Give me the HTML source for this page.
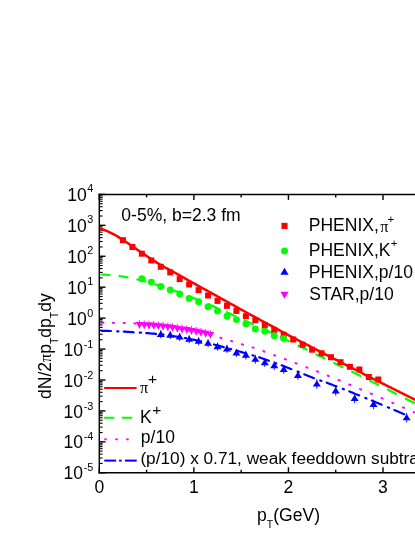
<!DOCTYPE html>
<html><head><meta charset="utf-8"><title>chart</title>
<style>
html,body{margin:0;padding:0;background:#fff;}
body{width:415px;height:537px;position:relative;overflow:hidden;font-family:"Liberation Sans",sans-serif;color:#000;}
.t{position:absolute;line-height:1;white-space:nowrap;font-family:"Liberation Sans",sans-serif;}
.t.r{text-align:right;}
.t.c{text-align:center;}
.sup{font-size:10.8px;position:relative;top:-8.5px;line-height:0;margin-left:0.6px}
.sub{font-size:10.4px;position:relative;top:6.6px;line-height:0;}
.sup2{font-size:11.5px;position:relative;top:-8.4px;line-height:0;margin-left:0.2px}
.bsup{font-size:15.5px;position:relative;top:-7.2px;line-height:0;margin-left:0.6px}
.sy{font-family:"Liberation Serif",serif;font-size:0.92em}
</style></head><body>
<svg width="415" height="537" viewBox="0 0 415 537" style="position:absolute;left:0;top:0">
<rect width="415" height="537" fill="#fff"/>
<g stroke="#000" stroke-width="1.4" fill="none">
<line x1="99.3" y1="194.40" x2="105.5" y2="194.40"/>
<line x1="99.3" y1="216.02" x2="102.6" y2="216.02" stroke-width="1.1"/>
<line x1="99.3" y1="210.57" x2="102.6" y2="210.57" stroke-width="1.1"/>
<line x1="99.3" y1="206.71" x2="102.6" y2="206.71" stroke-width="1.1"/>
<line x1="99.3" y1="203.71" x2="102.6" y2="203.71" stroke-width="1.1"/>
<line x1="99.3" y1="201.26" x2="102.6" y2="201.26" stroke-width="1.1"/>
<line x1="99.3" y1="199.19" x2="102.6" y2="199.19" stroke-width="1.1"/>
<line x1="99.3" y1="197.40" x2="102.6" y2="197.40" stroke-width="1.1"/>
<line x1="99.3" y1="195.82" x2="102.6" y2="195.82" stroke-width="1.1"/>
<line x1="99.3" y1="225.33" x2="105.5" y2="225.33"/>
<line x1="99.3" y1="246.95" x2="102.6" y2="246.95" stroke-width="1.1"/>
<line x1="99.3" y1="241.50" x2="102.6" y2="241.50" stroke-width="1.1"/>
<line x1="99.3" y1="237.64" x2="102.6" y2="237.64" stroke-width="1.1"/>
<line x1="99.3" y1="234.64" x2="102.6" y2="234.64" stroke-width="1.1"/>
<line x1="99.3" y1="232.19" x2="102.6" y2="232.19" stroke-width="1.1"/>
<line x1="99.3" y1="230.12" x2="102.6" y2="230.12" stroke-width="1.1"/>
<line x1="99.3" y1="228.33" x2="102.6" y2="228.33" stroke-width="1.1"/>
<line x1="99.3" y1="226.75" x2="102.6" y2="226.75" stroke-width="1.1"/>
<line x1="99.3" y1="256.26" x2="105.5" y2="256.26"/>
<line x1="99.3" y1="277.88" x2="102.6" y2="277.88" stroke-width="1.1"/>
<line x1="99.3" y1="272.43" x2="102.6" y2="272.43" stroke-width="1.1"/>
<line x1="99.3" y1="268.57" x2="102.6" y2="268.57" stroke-width="1.1"/>
<line x1="99.3" y1="265.57" x2="102.6" y2="265.57" stroke-width="1.1"/>
<line x1="99.3" y1="263.12" x2="102.6" y2="263.12" stroke-width="1.1"/>
<line x1="99.3" y1="261.05" x2="102.6" y2="261.05" stroke-width="1.1"/>
<line x1="99.3" y1="259.26" x2="102.6" y2="259.26" stroke-width="1.1"/>
<line x1="99.3" y1="257.68" x2="102.6" y2="257.68" stroke-width="1.1"/>
<line x1="99.3" y1="287.19" x2="105.5" y2="287.19"/>
<line x1="99.3" y1="308.81" x2="102.6" y2="308.81" stroke-width="1.1"/>
<line x1="99.3" y1="303.36" x2="102.6" y2="303.36" stroke-width="1.1"/>
<line x1="99.3" y1="299.50" x2="102.6" y2="299.50" stroke-width="1.1"/>
<line x1="99.3" y1="296.50" x2="102.6" y2="296.50" stroke-width="1.1"/>
<line x1="99.3" y1="294.05" x2="102.6" y2="294.05" stroke-width="1.1"/>
<line x1="99.3" y1="291.98" x2="102.6" y2="291.98" stroke-width="1.1"/>
<line x1="99.3" y1="290.19" x2="102.6" y2="290.19" stroke-width="1.1"/>
<line x1="99.3" y1="288.61" x2="102.6" y2="288.61" stroke-width="1.1"/>
<line x1="99.3" y1="318.12" x2="105.5" y2="318.12"/>
<line x1="99.3" y1="339.74" x2="102.6" y2="339.74" stroke-width="1.1"/>
<line x1="99.3" y1="334.29" x2="102.6" y2="334.29" stroke-width="1.1"/>
<line x1="99.3" y1="330.43" x2="102.6" y2="330.43" stroke-width="1.1"/>
<line x1="99.3" y1="327.43" x2="102.6" y2="327.43" stroke-width="1.1"/>
<line x1="99.3" y1="324.98" x2="102.6" y2="324.98" stroke-width="1.1"/>
<line x1="99.3" y1="322.91" x2="102.6" y2="322.91" stroke-width="1.1"/>
<line x1="99.3" y1="321.12" x2="102.6" y2="321.12" stroke-width="1.1"/>
<line x1="99.3" y1="319.54" x2="102.6" y2="319.54" stroke-width="1.1"/>
<line x1="99.3" y1="349.05" x2="105.5" y2="349.05"/>
<line x1="99.3" y1="370.67" x2="102.6" y2="370.67" stroke-width="1.1"/>
<line x1="99.3" y1="365.22" x2="102.6" y2="365.22" stroke-width="1.1"/>
<line x1="99.3" y1="361.36" x2="102.6" y2="361.36" stroke-width="1.1"/>
<line x1="99.3" y1="358.36" x2="102.6" y2="358.36" stroke-width="1.1"/>
<line x1="99.3" y1="355.91" x2="102.6" y2="355.91" stroke-width="1.1"/>
<line x1="99.3" y1="353.84" x2="102.6" y2="353.84" stroke-width="1.1"/>
<line x1="99.3" y1="352.05" x2="102.6" y2="352.05" stroke-width="1.1"/>
<line x1="99.3" y1="350.47" x2="102.6" y2="350.47" stroke-width="1.1"/>
<line x1="99.3" y1="379.98" x2="105.5" y2="379.98"/>
<line x1="99.3" y1="401.60" x2="102.6" y2="401.60" stroke-width="1.1"/>
<line x1="99.3" y1="396.15" x2="102.6" y2="396.15" stroke-width="1.1"/>
<line x1="99.3" y1="392.29" x2="102.6" y2="392.29" stroke-width="1.1"/>
<line x1="99.3" y1="389.29" x2="102.6" y2="389.29" stroke-width="1.1"/>
<line x1="99.3" y1="386.84" x2="102.6" y2="386.84" stroke-width="1.1"/>
<line x1="99.3" y1="384.77" x2="102.6" y2="384.77" stroke-width="1.1"/>
<line x1="99.3" y1="382.98" x2="102.6" y2="382.98" stroke-width="1.1"/>
<line x1="99.3" y1="381.40" x2="102.6" y2="381.40" stroke-width="1.1"/>
<line x1="99.3" y1="410.91" x2="105.5" y2="410.91"/>
<line x1="99.3" y1="432.53" x2="102.6" y2="432.53" stroke-width="1.1"/>
<line x1="99.3" y1="427.08" x2="102.6" y2="427.08" stroke-width="1.1"/>
<line x1="99.3" y1="423.22" x2="102.6" y2="423.22" stroke-width="1.1"/>
<line x1="99.3" y1="420.22" x2="102.6" y2="420.22" stroke-width="1.1"/>
<line x1="99.3" y1="417.77" x2="102.6" y2="417.77" stroke-width="1.1"/>
<line x1="99.3" y1="415.70" x2="102.6" y2="415.70" stroke-width="1.1"/>
<line x1="99.3" y1="413.91" x2="102.6" y2="413.91" stroke-width="1.1"/>
<line x1="99.3" y1="412.33" x2="102.6" y2="412.33" stroke-width="1.1"/>
<line x1="99.3" y1="441.84" x2="105.5" y2="441.84"/>
<line x1="99.3" y1="463.46" x2="102.6" y2="463.46" stroke-width="1.1"/>
<line x1="99.3" y1="458.01" x2="102.6" y2="458.01" stroke-width="1.1"/>
<line x1="99.3" y1="454.15" x2="102.6" y2="454.15" stroke-width="1.1"/>
<line x1="99.3" y1="451.15" x2="102.6" y2="451.15" stroke-width="1.1"/>
<line x1="99.3" y1="448.70" x2="102.6" y2="448.70" stroke-width="1.1"/>
<line x1="99.3" y1="446.63" x2="102.6" y2="446.63" stroke-width="1.1"/>
<line x1="99.3" y1="444.84" x2="102.6" y2="444.84" stroke-width="1.1"/>
<line x1="99.3" y1="443.26" x2="102.6" y2="443.26" stroke-width="1.1"/>
<line x1="99.3" y1="472.77" x2="105.5" y2="472.77"/>
<line x1="99.30" y1="472.77" x2="99.30" y2="467.27"/>
<line x1="99.30" y1="194.4" x2="99.30" y2="199.9"/>
<line x1="146.58" y1="472.77" x2="146.58" y2="469.77"/>
<line x1="146.58" y1="194.4" x2="146.58" y2="197.4"/>
<line x1="193.87" y1="472.77" x2="193.87" y2="467.27"/>
<line x1="193.87" y1="194.4" x2="193.87" y2="199.9"/>
<line x1="241.15" y1="472.77" x2="241.15" y2="469.77"/>
<line x1="241.15" y1="194.4" x2="241.15" y2="197.4"/>
<line x1="288.44" y1="472.77" x2="288.44" y2="467.27"/>
<line x1="288.44" y1="194.4" x2="288.44" y2="199.9"/>
<line x1="335.72" y1="472.77" x2="335.72" y2="469.77"/>
<line x1="335.72" y1="194.4" x2="335.72" y2="197.4"/>
<line x1="383.01" y1="472.77" x2="383.01" y2="467.27"/>
<line x1="383.01" y1="194.4" x2="383.01" y2="199.9"/>
</g>
<polyline points="99.8,228.5 101.3,229.0 102.8,229.5 104.3,230.0 105.8,230.6 107.3,231.2 108.8,231.9 110.3,232.6 111.8,233.3 113.3,234.0 114.8,234.8 116.3,235.7 117.8,236.6 119.3,237.6 120.8,238.6 122.3,239.6 123.8,240.5 125.3,241.5 126.8,242.5 128.3,243.5 129.8,244.5 131.3,245.5 132.8,246.5 134.3,247.6 135.8,248.6 137.3,249.7 138.8,250.7 140.3,251.8 141.8,252.8 143.3,253.8 144.8,254.8 146.3,255.8 147.8,256.8 149.3,257.8 150.8,258.7 152.3,259.7 153.8,260.7 155.3,261.6 156.8,262.6 158.3,263.5 159.8,264.4 161.3,265.3 162.8,266.2 164.3,267.0 165.8,267.8 167.3,268.6 168.8,269.4 170.3,270.2 171.8,271.0 173.3,271.8 174.8,272.7 176.3,273.5 177.8,274.4 179.3,275.2 180.8,276.0 182.3,276.9 183.8,277.7 185.3,278.6 186.8,279.4 188.3,280.3 189.8,281.1 191.3,281.9 192.8,282.8 194.3,283.6 195.8,284.4 197.3,285.3 198.8,286.1 200.3,286.9 201.8,287.8 203.3,288.6 204.8,289.4 206.3,290.2 207.8,291.1 209.3,291.9 210.8,292.7 212.3,293.6 213.8,294.4 215.3,295.2 216.8,296.1 218.3,296.9 219.8,297.7 221.3,298.6 222.8,299.4 224.3,300.2 225.8,301.1 227.3,301.9 228.8,302.7 230.3,303.6 231.8,304.4 233.3,305.2 234.8,306.1 236.3,306.9 237.8,307.7 239.3,308.5 240.8,309.4 242.3,310.2 243.8,311.0 245.3,311.8 246.8,312.7 248.3,313.5 249.8,314.3 251.3,315.1 252.8,315.9 254.3,316.7 255.8,317.5 257.3,318.4 258.8,319.2 260.3,320.0 261.8,320.8 263.3,321.6 264.8,322.4 266.3,323.2 267.8,324.0 269.3,324.8 270.8,325.6 272.3,326.4 273.8,327.2 275.3,328.0 276.8,328.9 278.3,329.7 279.8,330.5 281.3,331.3 282.8,332.1 284.3,332.9 285.8,333.7 287.3,334.5 288.8,335.3 290.3,336.1 291.8,336.8 293.3,337.6 294.8,338.4 296.3,339.2 297.8,340.0 299.3,340.8 300.8,341.6 302.3,342.3 303.8,343.1 305.3,343.9 306.8,344.7 308.3,345.4 309.8,346.2 311.3,347.0 312.8,347.8 314.3,348.5 315.8,349.3 317.3,350.1 318.8,350.9 320.3,351.7 321.8,352.4 323.3,353.2 324.8,354.0 326.3,354.8 327.8,355.5 329.3,356.3 330.8,357.1 332.3,357.9 333.8,358.7 335.3,359.4 336.8,360.2 338.3,361.0 339.8,361.8 341.3,362.5 342.8,363.3 344.3,364.1 345.8,364.8 347.3,365.6 348.8,366.4 350.3,367.2 351.8,367.9 353.3,368.7 354.8,369.5 356.3,370.2 357.8,371.0 359.3,371.7 360.8,372.5 362.3,373.3 363.8,374.0 365.3,374.8 366.8,375.5 368.3,376.3 369.8,377.1 371.3,377.8 372.8,378.6 374.3,379.3 375.8,380.1 377.3,380.8 378.8,381.6 380.3,382.4 381.8,383.1 383.3,383.9 384.8,384.6 386.3,385.4 387.8,386.1 389.3,386.9 390.8,387.6 392.3,388.4 393.8,389.1 395.3,389.8 396.8,390.6 398.3,391.3 399.8,392.1 401.3,392.8 402.8,393.6 404.3,394.3 405.8,395.1 407.3,395.8 408.8,396.5 410.3,397.3 411.8,398.0 413.3,398.8 414.8,399.5 416.0,400.1" fill="none" stroke="#ff0000" stroke-width="2.5"/>
<polyline points="101.5,274.5 102.5,274.6 103.5,274.6 104.5,274.7 105.5,274.7 106.5,274.8 107.5,274.8 108.5,274.9 109.5,275.0 109.7,275.0" fill="none" stroke="#00ff00" stroke-width="2.2" stroke-linecap="round"/>
<polyline points="119.4,276.0 120.4,276.2 121.4,276.3 122.4,276.5 123.4,276.6 124.4,276.8 125.4,277.0 126.4,277.2 127.4,277.3 127.6,277.4" fill="none" stroke="#00ff00" stroke-width="2.2" stroke-linecap="round"/>
<polyline points="137.3,279.5 138.3,279.7 139.3,280.0 140.3,280.2 141.3,280.5 142.3,280.7 143.3,281.0 144.3,281.3 145.3,281.5 145.5,281.6" fill="none" stroke="#00ff00" stroke-width="2.2" stroke-linecap="round"/>
<polyline points="155.2,284.4 156.2,284.7 157.2,285.0 158.2,285.3 159.2,285.6 160.2,285.9 161.2,286.2 162.2,286.6 163.2,286.9 163.4,287.0" fill="none" stroke="#00ff00" stroke-width="2.2" stroke-linecap="round"/>
<polyline points="173.1,290.3 174.1,290.6 175.1,291.0 176.1,291.3 177.1,291.7 178.1,292.1 179.1,292.4 180.1,292.8 181.1,293.2 181.3,293.3" fill="none" stroke="#00ff00" stroke-width="2.2" stroke-linecap="round"/>
<polyline points="191.0,297.0 192.0,297.4 193.0,297.8 194.0,298.2 195.0,298.6 196.0,299.0 197.0,299.4 198.0,299.8 199.0,300.2 199.2,300.3" fill="none" stroke="#00ff00" stroke-width="2.2" stroke-linecap="round"/>
<polyline points="208.9,304.3 209.9,304.7 210.9,305.2 211.9,305.6 212.9,306.0 213.9,306.5 214.9,306.9 215.9,307.4 216.9,307.8 217.1,307.9" fill="none" stroke="#00ff00" stroke-width="2.2" stroke-linecap="round"/>
<polyline points="226.8,312.2 227.8,312.7 228.8,313.1 229.8,313.6 230.8,314.0 231.8,314.5 232.8,314.9 233.8,315.4 234.8,315.8 235.0,315.9" fill="none" stroke="#00ff00" stroke-width="2.2" stroke-linecap="round"/>
<polyline points="244.7,320.4 245.7,320.9 246.7,321.3 247.7,321.8 248.7,322.3 249.7,322.8 250.7,323.2 251.7,323.7 252.7,324.1 252.9,324.2" fill="none" stroke="#00ff00" stroke-width="2.2" stroke-linecap="round"/>
<polyline points="262.6,328.7 263.6,329.2 264.6,329.6 265.6,330.1 266.6,330.6 267.6,331.1 268.6,331.5 269.6,332.0 270.6,332.5 270.8,332.6" fill="none" stroke="#00ff00" stroke-width="2.2" stroke-linecap="round"/>
<polyline points="280.5,337.2 281.5,337.7 282.5,338.2 283.5,338.6 284.5,339.1 285.5,339.6 286.5,340.0 287.5,340.5 288.5,341.0 288.7,341.1" fill="none" stroke="#00ff00" stroke-width="2.2" stroke-linecap="round"/>
<polyline points="298.4,345.7 299.4,346.2 300.4,346.7 301.4,347.2 302.4,347.6 303.4,348.1 304.4,348.6 305.4,349.1 306.4,349.6 306.6,349.7" fill="none" stroke="#00ff00" stroke-width="2.2" stroke-linecap="round"/>
<polyline points="316.3,354.4 317.3,354.9 318.3,355.4 319.3,355.9 320.3,356.3 321.3,356.8 322.3,357.3 323.3,357.8 324.3,358.3 324.5,358.4" fill="none" stroke="#00ff00" stroke-width="2.2" stroke-linecap="round"/>
<polyline points="334.2,363.0 335.2,363.5 336.2,364.0 337.2,364.5 338.2,365.0 339.2,365.5 340.2,366.0 341.2,366.5 342.2,367.0 342.4,367.1" fill="none" stroke="#00ff00" stroke-width="2.2" stroke-linecap="round"/>
<polyline points="352.1,371.8 353.1,372.3 354.1,372.8 355.1,373.3 356.1,373.8 357.1,374.3 358.1,374.8 359.1,375.3 360.1,375.9 360.3,376.0" fill="none" stroke="#00ff00" stroke-width="2.2" stroke-linecap="round"/>
<polyline points="370.0,380.8 371.0,381.3 372.0,381.8 373.0,382.3 374.0,382.8 375.0,383.2 376.0,383.7 377.0,384.2 378.0,384.7 378.2,384.8" fill="none" stroke="#00ff00" stroke-width="2.2" stroke-linecap="round"/>
<polyline points="387.9,389.6 388.9,390.1 389.9,390.7 390.9,391.2 391.9,391.7 392.9,392.2 393.9,392.7 394.9,393.2 395.9,393.7 396.1,393.8" fill="none" stroke="#00ff00" stroke-width="2.2" stroke-linecap="round"/>
<polyline points="405.8,398.7 406.8,399.2 407.8,399.7 408.8,400.2 409.8,400.7 410.8,401.2 411.8,401.7 412.8,402.2 413.8,402.7 414.0,402.8" fill="none" stroke="#00ff00" stroke-width="2.2" stroke-linecap="round"/>
<polyline points="102.1,322.6 103.1,322.6 103.3,322.7" fill="none" stroke="#ff00ff" stroke-width="2.0" stroke-linecap="round"/>
<polyline points="112.8,322.8 113.8,322.9 114.0,322.9" fill="none" stroke="#ff00ff" stroke-width="2.0" stroke-linecap="round"/>
<polyline points="123.6,323.1 124.6,323.1 124.8,323.1" fill="none" stroke="#ff00ff" stroke-width="2.0" stroke-linecap="round"/>
<polyline points="134.3,323.4 135.3,323.5 135.5,323.5" fill="none" stroke="#ff00ff" stroke-width="2.0" stroke-linecap="round"/>
<polyline points="145.1,324.1 146.1,324.2 146.3,324.2" fill="none" stroke="#ff00ff" stroke-width="2.0" stroke-linecap="round"/>
<polyline points="155.8,325.2 156.8,325.4 157.0,325.4" fill="none" stroke="#ff00ff" stroke-width="2.0" stroke-linecap="round"/>
<polyline points="166.6,326.7 167.6,326.8 167.8,326.9" fill="none" stroke="#ff00ff" stroke-width="2.0" stroke-linecap="round"/>
<polyline points="177.3,328.4 178.3,328.5 178.5,328.6" fill="none" stroke="#ff00ff" stroke-width="2.0" stroke-linecap="round"/>
<polyline points="188.1,330.2 189.1,330.4 189.3,330.5" fill="none" stroke="#ff00ff" stroke-width="2.0" stroke-linecap="round"/>
<polyline points="198.8,332.3 199.8,332.5 200.0,332.5" fill="none" stroke="#ff00ff" stroke-width="2.0" stroke-linecap="round"/>
<polyline points="209.5,334.7 210.5,335.0 210.8,335.0" fill="none" stroke="#ff00ff" stroke-width="2.0" stroke-linecap="round"/>
<polyline points="220.3,337.7 221.3,338.0 221.5,338.1" fill="none" stroke="#ff00ff" stroke-width="2.0" stroke-linecap="round"/>
<polyline points="231.0,340.9 232.0,341.2 232.2,341.3" fill="none" stroke="#ff00ff" stroke-width="2.0" stroke-linecap="round"/>
<polyline points="241.8,344.3 242.8,344.6 243.0,344.7" fill="none" stroke="#ff00ff" stroke-width="2.0" stroke-linecap="round"/>
<polyline points="252.5,347.4 253.5,347.7 253.7,347.8" fill="none" stroke="#ff00ff" stroke-width="2.0" stroke-linecap="round"/>
<polyline points="263.3,351.1 264.3,351.5 264.5,351.6" fill="none" stroke="#ff00ff" stroke-width="2.0" stroke-linecap="round"/>
<polyline points="274.0,355.2 275.0,355.6 275.2,355.6" fill="none" stroke="#ff00ff" stroke-width="2.0" stroke-linecap="round"/>
<polyline points="284.8,359.1 285.8,359.4 286.0,359.5" fill="none" stroke="#ff00ff" stroke-width="2.0" stroke-linecap="round"/>
<polyline points="295.5,363.1 296.5,363.5 296.7,363.5" fill="none" stroke="#ff00ff" stroke-width="2.0" stroke-linecap="round"/>
<polyline points="306.3,367.2 307.3,367.6 307.5,367.7" fill="none" stroke="#ff00ff" stroke-width="2.0" stroke-linecap="round"/>
<polyline points="317.0,371.3 318.0,371.7 318.2,371.8" fill="none" stroke="#ff00ff" stroke-width="2.0" stroke-linecap="round"/>
<polyline points="327.7,375.6 328.7,376.0 328.9,376.1" fill="none" stroke="#ff00ff" stroke-width="2.0" stroke-linecap="round"/>
<polyline points="338.5,380.0 339.5,380.4 339.7,380.5" fill="none" stroke="#ff00ff" stroke-width="2.0" stroke-linecap="round"/>
<polyline points="349.2,384.5 350.2,384.9 350.4,385.0" fill="none" stroke="#ff00ff" stroke-width="2.0" stroke-linecap="round"/>
<polyline points="360.0,389.1 361.0,389.5 361.2,389.6" fill="none" stroke="#ff00ff" stroke-width="2.0" stroke-linecap="round"/>
<polyline points="370.7,393.5 371.7,393.9 371.9,394.0" fill="none" stroke="#ff00ff" stroke-width="2.0" stroke-linecap="round"/>
<polyline points="381.5,398.1 382.5,398.5 382.7,398.6" fill="none" stroke="#ff00ff" stroke-width="2.0" stroke-linecap="round"/>
<polyline points="392.2,402.7 393.2,403.2 393.4,403.3" fill="none" stroke="#ff00ff" stroke-width="2.0" stroke-linecap="round"/>
<polyline points="403.0,407.3 404.0,407.8 404.2,407.8" fill="none" stroke="#ff00ff" stroke-width="2.0" stroke-linecap="round"/>
<polyline points="413.7,412.1 414.7,412.6 415.6,413.0" fill="none" stroke="#ff00ff" stroke-width="2.0" stroke-linecap="round"/>
<polyline points="101.2,330.7 102.2,330.8 103.2,330.8 104.2,330.8 105.2,330.8 106.2,330.9 107.2,330.9 108.2,330.9 109.2,331.0 110.2,331.0 111.0,331.0" fill="none" stroke="#0000ff" stroke-width="2.2" stroke-linecap="round"/>
<polyline points="117.2,331.3 118.2,331.4 118.4,331.4" fill="none" stroke="#0000ff" stroke-width="2.2" stroke-linecap="round"/>
<polyline points="123.8,331.6 124.8,331.7 125.8,331.7 126.8,331.8 127.8,331.9 128.8,331.9 129.8,332.0 130.8,332.1 131.8,332.1 132.8,332.2 133.6,332.3" fill="none" stroke="#0000ff" stroke-width="2.2" stroke-linecap="round"/>
<polyline points="139.8,332.7 140.8,332.7 141.0,332.7" fill="none" stroke="#0000ff" stroke-width="2.2" stroke-linecap="round"/>
<polyline points="146.3,333.1 147.3,333.2 148.3,333.2 149.3,333.3 150.3,333.4 151.3,333.5 152.3,333.6 153.3,333.6 154.3,333.7 155.3,333.8 156.1,333.9" fill="none" stroke="#0000ff" stroke-width="2.2" stroke-linecap="round"/>
<polyline points="162.3,334.6 163.3,334.7 163.5,334.7" fill="none" stroke="#0000ff" stroke-width="2.2" stroke-linecap="round"/>
<polyline points="168.8,335.4 169.8,335.6 170.8,335.7 171.8,335.9 172.8,336.0 173.8,336.2 174.8,336.3 175.8,336.5 176.8,336.6 177.8,336.8 178.7,336.9" fill="none" stroke="#0000ff" stroke-width="2.2" stroke-linecap="round"/>
<polyline points="184.8,338.0 185.8,338.2 186.1,338.2" fill="none" stroke="#0000ff" stroke-width="2.2" stroke-linecap="round"/>
<polyline points="191.4,339.3 192.4,339.5 193.4,339.7 194.4,339.9 195.4,340.1 196.4,340.3 197.4,340.6 198.4,340.8 199.4,341.0 200.4,341.2 201.2,341.4" fill="none" stroke="#0000ff" stroke-width="2.2" stroke-linecap="round"/>
<polyline points="207.4,342.9 208.4,343.2 208.6,343.2" fill="none" stroke="#0000ff" stroke-width="2.2" stroke-linecap="round"/>
<polyline points="214.0,344.5 215.0,344.8 216.0,345.0 217.0,345.3 218.0,345.6 219.0,345.8 220.0,346.1 221.0,346.4 222.0,346.6 223.0,346.9 223.8,347.1" fill="none" stroke="#0000ff" stroke-width="2.2" stroke-linecap="round"/>
<polyline points="230.0,348.8 231.0,349.1 231.2,349.1" fill="none" stroke="#0000ff" stroke-width="2.2" stroke-linecap="round"/>
<polyline points="236.5,350.7 237.5,350.9 238.5,351.2 239.5,351.5 240.5,351.8 241.5,352.1 242.5,352.4 243.5,352.7 244.5,353.0 245.5,353.3 246.3,353.5" fill="none" stroke="#0000ff" stroke-width="2.2" stroke-linecap="round"/>
<polyline points="252.5,355.3 253.5,355.6 253.7,355.7" fill="none" stroke="#0000ff" stroke-width="2.2" stroke-linecap="round"/>
<polyline points="259.1,357.3 260.1,357.6 261.1,358.0 262.1,358.3 263.1,358.7 264.1,359.1 265.1,359.4 266.1,359.8 267.1,360.1 268.1,360.5 268.9,360.8" fill="none" stroke="#0000ff" stroke-width="2.2" stroke-linecap="round"/>
<polyline points="275.1,363.0 276.1,363.3 276.3,363.4" fill="none" stroke="#0000ff" stroke-width="2.2" stroke-linecap="round"/>
<polyline points="281.6,365.3 282.6,365.7 283.6,366.1 284.6,366.5 285.6,366.9 286.6,367.3 287.6,367.7 288.6,368.1 289.6,368.5 290.6,368.9 291.4,369.2" fill="none" stroke="#0000ff" stroke-width="2.2" stroke-linecap="round"/>
<polyline points="297.6,371.6 298.6,372.0 298.8,372.1" fill="none" stroke="#0000ff" stroke-width="2.2" stroke-linecap="round"/>
<polyline points="304.2,374.3 305.2,374.7 306.2,375.1 307.2,375.5 308.2,375.9 309.2,376.3 310.2,376.7 311.2,377.1 312.2,377.5 313.2,377.9 314.0,378.2" fill="none" stroke="#0000ff" stroke-width="2.2" stroke-linecap="round"/>
<polyline points="320.2,380.4 321.2,380.8 321.4,380.9" fill="none" stroke="#0000ff" stroke-width="2.2" stroke-linecap="round"/>
<polyline points="326.7,382.7 327.7,383.1 328.7,383.5 329.7,383.9 330.7,384.2 331.7,384.6 332.7,385.0 333.7,385.4 334.7,385.8 335.7,386.1 336.5,386.4" fill="none" stroke="#0000ff" stroke-width="2.2" stroke-linecap="round"/>
<polyline points="342.7,388.8 343.7,389.2 343.9,389.3" fill="none" stroke="#0000ff" stroke-width="2.2" stroke-linecap="round"/>
<polyline points="349.3,391.4 350.3,391.8 351.3,392.2 352.3,392.6 353.3,393.0 354.3,393.4 355.3,393.9 356.3,394.3 357.3,394.7 358.3,395.1 359.1,395.4" fill="none" stroke="#0000ff" stroke-width="2.2" stroke-linecap="round"/>
<polyline points="365.3,397.9 366.3,398.3 366.5,398.4" fill="none" stroke="#0000ff" stroke-width="2.2" stroke-linecap="round"/>
<polyline points="371.8,400.6 372.8,401.0 373.8,401.4 374.8,401.8 375.8,402.3 376.8,402.7 377.8,403.1 378.8,403.5 379.8,403.9 380.8,404.3 381.6,404.7" fill="none" stroke="#0000ff" stroke-width="2.2" stroke-linecap="round"/>
<polyline points="387.8,407.3 388.8,407.7 389.0,407.8" fill="none" stroke="#0000ff" stroke-width="2.2" stroke-linecap="round"/>
<polyline points="394.4,410.1 395.4,410.5 396.4,410.9 397.4,411.3 398.4,411.8 399.4,412.2 400.4,412.6 401.4,413.0 402.4,413.5 403.4,413.9 404.2,414.2" fill="none" stroke="#0000ff" stroke-width="2.2" stroke-linecap="round"/>
<rect x="119.94" y="237.20" width="6.0" height="6.0" fill="#ff0000"/>
<rect x="129.40" y="244.00" width="6.0" height="6.0" fill="#ff0000"/>
<rect x="138.86" y="250.70" width="6.0" height="6.0" fill="#ff0000"/>
<rect x="148.31" y="257.50" width="6.0" height="6.0" fill="#ff0000"/>
<rect x="157.77" y="263.80" width="6.0" height="6.0" fill="#ff0000"/>
<rect x="167.23" y="269.40" width="6.0" height="6.0" fill="#ff0000"/>
<rect x="176.68" y="276.10" width="6.0" height="6.0" fill="#ff0000"/>
<rect x="186.14" y="281.50" width="6.0" height="6.0" fill="#ff0000"/>
<rect x="195.60" y="287.10" width="6.0" height="6.0" fill="#ff0000"/>
<rect x="205.06" y="292.50" width="6.0" height="6.0" fill="#ff0000"/>
<rect x="214.51" y="297.90" width="6.0" height="6.0" fill="#ff0000"/>
<rect x="223.97" y="302.80" width="6.0" height="6.0" fill="#ff0000"/>
<rect x="233.43" y="307.90" width="6.0" height="6.0" fill="#ff0000"/>
<rect x="242.88" y="313.20" width="6.0" height="6.0" fill="#ff0000"/>
<rect x="252.34" y="317.20" width="6.0" height="6.0" fill="#ff0000"/>
<rect x="261.80" y="322.10" width="6.0" height="6.0" fill="#ff0000"/>
<rect x="271.25" y="326.90" width="6.0" height="6.0" fill="#ff0000"/>
<rect x="280.71" y="331.80" width="6.0" height="6.0" fill="#ff0000"/>
<rect x="290.17" y="336.50" width="6.0" height="6.0" fill="#ff0000"/>
<rect x="299.63" y="341.70" width="6.0" height="6.0" fill="#ff0000"/>
<rect x="309.08" y="346.70" width="6.0" height="6.0" fill="#ff0000"/>
<rect x="318.54" y="350.30" width="6.0" height="6.0" fill="#ff0000"/>
<rect x="328.00" y="354.20" width="6.0" height="6.0" fill="#ff0000"/>
<rect x="337.45" y="359.20" width="6.0" height="6.0" fill="#ff0000"/>
<rect x="346.91" y="363.80" width="6.0" height="6.0" fill="#ff0000"/>
<rect x="356.37" y="366.50" width="6.0" height="6.0" fill="#ff0000"/>
<rect x="365.82" y="374.00" width="6.0" height="6.0" fill="#ff0000"/>
<rect x="375.28" y="376.50" width="6.0" height="6.0" fill="#ff0000"/>
<circle cx="141.86" cy="278.8" r="3.45" fill="#00ff00"/>
<circle cx="151.31" cy="282.1" r="3.45" fill="#00ff00"/>
<circle cx="160.77" cy="286.5" r="3.45" fill="#00ff00"/>
<circle cx="170.23" cy="289.9" r="3.45" fill="#00ff00"/>
<circle cx="179.68" cy="293.9" r="3.45" fill="#00ff00"/>
<circle cx="189.14" cy="298.4" r="3.45" fill="#00ff00"/>
<circle cx="198.60" cy="301.8" r="3.45" fill="#00ff00"/>
<circle cx="208.06" cy="306.7" r="3.45" fill="#00ff00"/>
<circle cx="217.51" cy="310.9" r="3.45" fill="#00ff00"/>
<circle cx="226.97" cy="316.3" r="3.45" fill="#00ff00"/>
<circle cx="236.43" cy="319.6" r="3.45" fill="#00ff00"/>
<circle cx="245.88" cy="323.9" r="3.45" fill="#00ff00"/>
<circle cx="255.34" cy="328.9" r="3.45" fill="#00ff00"/>
<circle cx="264.80" cy="331.2" r="3.45" fill="#00ff00"/>
<circle cx="274.25" cy="335.7" r="3.45" fill="#00ff00"/>
<circle cx="283.71" cy="338.6" r="3.45" fill="#00ff00"/>
<line x1="139.49" y1="320.30" x2="139.49" y2="328.60" stroke="#ff00ff" stroke-width="0.9"/>
<polygon points="135.59,322.10 143.39,322.10 139.49,328.60" fill="#ff00ff"/>
<line x1="144.22" y1="320.45" x2="144.22" y2="328.75" stroke="#ff00ff" stroke-width="0.9"/>
<polygon points="140.32,322.25 148.12,322.25 144.22,328.75" fill="#ff00ff"/>
<line x1="148.95" y1="320.70" x2="148.95" y2="329.00" stroke="#ff00ff" stroke-width="0.9"/>
<polygon points="145.05,322.50 152.85,322.50 148.95,329.00" fill="#ff00ff"/>
<line x1="153.68" y1="321.04" x2="153.68" y2="329.34" stroke="#ff00ff" stroke-width="0.9"/>
<polygon points="149.78,322.84 157.58,322.84 153.68,329.34" fill="#ff00ff"/>
<line x1="158.41" y1="321.42" x2="158.41" y2="329.72" stroke="#ff00ff" stroke-width="0.9"/>
<polygon points="154.51,323.22 162.31,323.22 158.41,329.72" fill="#ff00ff"/>
<line x1="163.13" y1="321.90" x2="163.13" y2="330.20" stroke="#ff00ff" stroke-width="0.9"/>
<polygon points="159.23,323.70 167.03,323.70 163.13,330.20" fill="#ff00ff"/>
<line x1="167.86" y1="322.55" x2="167.86" y2="330.85" stroke="#ff00ff" stroke-width="0.9"/>
<polygon points="163.96,324.35 171.76,324.35 167.86,330.85" fill="#ff00ff"/>
<line x1="172.59" y1="323.25" x2="172.59" y2="331.55" stroke="#ff00ff" stroke-width="0.9"/>
<polygon points="168.69,325.05 176.49,325.05 172.59,331.55" fill="#ff00ff"/>
<line x1="177.32" y1="323.93" x2="177.32" y2="332.23" stroke="#ff00ff" stroke-width="0.9"/>
<polygon points="173.42,325.73 181.22,325.73 177.32,332.23" fill="#ff00ff"/>
<line x1="182.05" y1="324.61" x2="182.05" y2="332.91" stroke="#ff00ff" stroke-width="0.9"/>
<polygon points="178.15,326.41 185.95,326.41 182.05,332.91" fill="#ff00ff"/>
<line x1="186.78" y1="325.32" x2="186.78" y2="333.62" stroke="#ff00ff" stroke-width="0.9"/>
<polygon points="182.88,327.12 190.68,327.12 186.78,333.62" fill="#ff00ff"/>
<line x1="191.51" y1="326.11" x2="191.51" y2="334.41" stroke="#ff00ff" stroke-width="0.9"/>
<polygon points="187.61,327.91 195.41,327.91 191.51,334.41" fill="#ff00ff"/>
<line x1="196.23" y1="326.99" x2="196.23" y2="335.29" stroke="#ff00ff" stroke-width="0.9"/>
<polygon points="192.33,328.79 200.13,328.79 196.23,335.29" fill="#ff00ff"/>
<line x1="200.96" y1="327.97" x2="200.96" y2="336.27" stroke="#ff00ff" stroke-width="0.9"/>
<polygon points="197.06,329.77 204.86,329.77 200.96,336.27" fill="#ff00ff"/>
<line x1="205.69" y1="329.03" x2="205.69" y2="337.33" stroke="#ff00ff" stroke-width="0.9"/>
<polygon points="201.79,330.83 209.59,330.83 205.69,337.33" fill="#ff00ff"/>
<line x1="210.42" y1="330.18" x2="210.42" y2="338.48" stroke="#ff00ff" stroke-width="0.9"/>
<polygon points="206.52,331.98 214.32,331.98 210.42,338.48" fill="#ff00ff"/>
<line x1="160.77" y1="330.30" x2="160.77" y2="338.30" stroke="#0000ff" stroke-width="0.9"/>
<polygon points="156.77,336.90 164.77,336.90 160.77,330.50" fill="#0000ff"/>
<line x1="170.23" y1="331.10" x2="170.23" y2="339.10" stroke="#0000ff" stroke-width="0.9"/>
<polygon points="166.23,337.70 174.23,337.70 170.23,331.30" fill="#0000ff"/>
<line x1="179.68" y1="333.00" x2="179.68" y2="341.00" stroke="#0000ff" stroke-width="0.9"/>
<polygon points="175.68,339.60 183.68,339.60 179.68,333.20" fill="#0000ff"/>
<line x1="189.14" y1="335.20" x2="189.14" y2="343.20" stroke="#0000ff" stroke-width="0.9"/>
<polygon points="185.14,341.80 193.14,341.80 189.14,335.40" fill="#0000ff"/>
<line x1="198.60" y1="337.20" x2="198.60" y2="345.20" stroke="#0000ff" stroke-width="0.9"/>
<polygon points="194.60,343.80 202.60,343.80 198.60,337.40" fill="#0000ff"/>
<line x1="208.06" y1="339.20" x2="208.06" y2="347.20" stroke="#0000ff" stroke-width="0.9"/>
<polygon points="204.06,345.80 212.06,345.80 208.06,339.40" fill="#0000ff"/>
<line x1="217.51" y1="342.60" x2="217.51" y2="350.60" stroke="#0000ff" stroke-width="0.9"/>
<polygon points="213.51,349.20 221.51,349.20 217.51,342.80" fill="#0000ff"/>
<line x1="226.97" y1="344.80" x2="226.97" y2="352.80" stroke="#0000ff" stroke-width="0.9"/>
<polygon points="222.97,351.40 230.97,351.40 226.97,345.00" fill="#0000ff"/>
<line x1="236.43" y1="348.90" x2="236.43" y2="356.90" stroke="#0000ff" stroke-width="0.9"/>
<polygon points="232.43,355.50 240.43,355.50 236.43,349.10" fill="#0000ff"/>
<line x1="245.88" y1="350.70" x2="245.88" y2="359.50" stroke="#0000ff" stroke-width="0.9"/>
<polygon points="241.88,357.70 249.88,357.70 245.88,351.30" fill="#0000ff"/>
<line x1="255.34" y1="354.80" x2="255.34" y2="363.60" stroke="#0000ff" stroke-width="0.9"/>
<polygon points="251.34,361.80 259.34,361.80 255.34,355.40" fill="#0000ff"/>
<line x1="264.80" y1="358.20" x2="264.80" y2="367.00" stroke="#0000ff" stroke-width="0.9"/>
<polygon points="260.80,365.20 268.80,365.20 264.80,358.80" fill="#0000ff"/>
<line x1="274.25" y1="361.20" x2="274.25" y2="370.00" stroke="#0000ff" stroke-width="0.9"/>
<polygon points="270.25,368.20 278.25,368.20 274.25,361.80" fill="#0000ff"/>
<line x1="283.71" y1="365.10" x2="283.71" y2="373.90" stroke="#0000ff" stroke-width="0.9"/>
<polygon points="279.71,372.10 287.71,372.10 283.71,365.70" fill="#0000ff"/>
<line x1="297.90" y1="370.90" x2="297.90" y2="379.70" stroke="#0000ff" stroke-width="0.9"/>
<polygon points="293.90,377.90 301.90,377.90 297.90,371.50" fill="#0000ff"/>
<line x1="316.81" y1="379.20" x2="316.81" y2="388.80" stroke="#0000ff" stroke-width="0.9"/>
<polygon points="312.81,386.60 320.81,386.60 316.81,380.20" fill="#0000ff"/>
<line x1="335.72" y1="386.10" x2="335.72" y2="395.70" stroke="#0000ff" stroke-width="0.9"/>
<polygon points="331.72,393.50 339.72,393.50 335.72,387.10" fill="#0000ff"/>
<line x1="354.64" y1="393.70" x2="354.64" y2="403.30" stroke="#0000ff" stroke-width="0.9"/>
<polygon points="350.64,401.10 358.64,401.10 354.64,394.70" fill="#0000ff"/>
<line x1="373.55" y1="399.60" x2="373.55" y2="409.20" stroke="#0000ff" stroke-width="0.9"/>
<polygon points="369.55,407.00 377.55,407.00 373.55,400.60" fill="#0000ff"/>
<line x1="406.65" y1="412.90" x2="406.65" y2="422.50" stroke="#0000ff" stroke-width="0.9"/>
<polygon points="402.65,420.30 410.65,420.30 406.65,413.90" fill="#0000ff"/>
<g stroke="#000" stroke-width="1.45" fill="none" stroke-linecap="square">
<line x1="99.3" y1="194.4" x2="99.3" y2="472.77"/>
<line x1="99.3" y1="194.4" x2="416" y2="194.4"/>
<line x1="99.3" y1="472.77" x2="416" y2="472.77"/>
</g>
<rect x="281.45" y="222.85" width="6.1" height="6.1" fill="#ff0000"/>
<circle cx="284.5" cy="251.1" r="3.5" fill="#00ff00"/>
<polygon points="280.4,274.8 288.6,274.8 284.5,267.7" fill="#0000ff"/>
<polygon points="280.4,291.7 288.6,291.7 284.5,298.7" fill="#ff00ff"/>
<line x1="104.9" y1="388" x2="135.9" y2="388" stroke="#ff0000" stroke-width="2.0" stroke-linecap="round"/>
<line x1="104.9" y1="417.7" x2="113.5" y2="417.7" stroke="#00ff00" stroke-width="2.1" stroke-linecap="round"/>
<line x1="122.8" y1="417.7" x2="131.3" y2="417.7" stroke="#00ff00" stroke-width="2.1" stroke-linecap="round"/>
<line x1="104.2" y1="439.3" x2="106.8" y2="439.3" stroke="#ff00ff" stroke-width="1.8"/>
<line x1="115.2" y1="439.3" x2="117.8" y2="439.3" stroke="#ff00ff" stroke-width="1.8"/>
<line x1="126.10000000000001" y1="439.3" x2="128.70000000000002" y2="439.3" stroke="#ff00ff" stroke-width="1.8"/>
<line x1="104.3" y1="460.6" x2="116.1" y2="460.6" stroke="#0000ff" stroke-width="2"/>
<line x1="119.1" y1="460.6" x2="121.6" y2="460.6" stroke="#0000ff" stroke-width="2"/>
<line x1="125" y1="460.6" x2="136.7" y2="460.6" stroke="#0000ff" stroke-width="2"/>
</svg>
<div id="txt" style="position:absolute;left:0;top:0;width:415px;height:537px;will-change:transform;transform:translateZ(0)"><div class="t r" style="right:321.7px;top:186.84px;font-size:17.55px">10<span class="sup">4</span></div><div class="t r" style="right:321.7px;top:217.77px;font-size:17.55px">10<span class="sup">3</span></div><div class="t r" style="right:321.7px;top:248.70px;font-size:17.55px">10<span class="sup">2</span></div><div class="t r" style="right:321.7px;top:279.63px;font-size:17.55px">10<span class="sup">1</span></div><div class="t r" style="right:321.7px;top:311.36px;font-size:17.55px">10<span class="sup">0</span></div><div class="t r" style="right:321.7px;top:342.29px;font-size:17.55px">10<span class="sup">-1</span></div><div class="t r" style="right:321.7px;top:373.22px;font-size:17.55px">10<span class="sup">-2</span></div><div class="t r" style="right:321.7px;top:404.15px;font-size:17.55px">10<span class="sup">-3</span></div><div class="t r" style="right:321.7px;top:434.28px;font-size:17.55px">10<span class="sup">-4</span></div><div class="t r" style="right:321.7px;top:465.21px;font-size:17.55px">10<span class="sup">-5</span></div><div class="t c" style="left:79.30px;width:40px;top:478.84px;font-size:17.55px">0</div><div class="t c" style="left:173.87px;width:40px;top:478.84px;font-size:17.55px">1</div><div class="t c" style="left:268.44px;width:40px;top:478.84px;font-size:17.55px">2</div><div class="t c" style="left:363.01px;width:40px;top:478.84px;font-size:17.55px">3</div><div class="t" style="left:257.1px;top:507.44px;font-size:17.55px;">p<span class="sub">T</span>(GeV)</div><div class="t" style="left:121.3px;top:207.14px;font-size:17.55px;">0-5%, b=2.3 fm</div><div class="t" style="left:308.7px;top:217.44px;font-size:17.55px;">PHENIX,<span class="sy" style="margin-left:1.3px;position:relative;top:0.5px">π</span><span class="sup2" style="margin-left:-0.8px">+</span></div><div class="t" style="left:308.7px;top:241.64px;font-size:17.55px;">PHENIX,K<span class="sup2">+</span></div><div class="t" style="left:308.7px;top:263.94px;font-size:17.55px;">PHENIX,p/10</div><div class="t" style="left:309.3px;top:285.74px;font-size:17.55px;">STAR,p/10</div><div class="t" style="left:140.1px;top:378.74px;font-size:17.55px;"><span class="sy">π</span><span class="bsup" style="top:-9.2px;margin-left:-0.2px">+</span></div><div class="t" style="left:139.89999999999998px;top:409.04px;font-size:17.55px;">K<span class="bsup" style="top:-8.4px">+</span></div><div class="t" style="left:140.8px;top:428.64px;font-size:17.55px;">p/10</div><div class="t" style="left:140.4px;top:450.41px;font-size:17.23px;">(p/10) x 0.71, weak feeddown subtracted</div><div class="t" style="left:52.2px;top:398.6px;font-size:17.55px;transform-origin:0 0;transform:rotate(-90deg) translate(0,-14.86px);white-space:nowrap">dN/2<span class="sy">π</span>p<span class="sub">T</span>dp<span class="sub">T</span>dy</div></div>
</body></html>
